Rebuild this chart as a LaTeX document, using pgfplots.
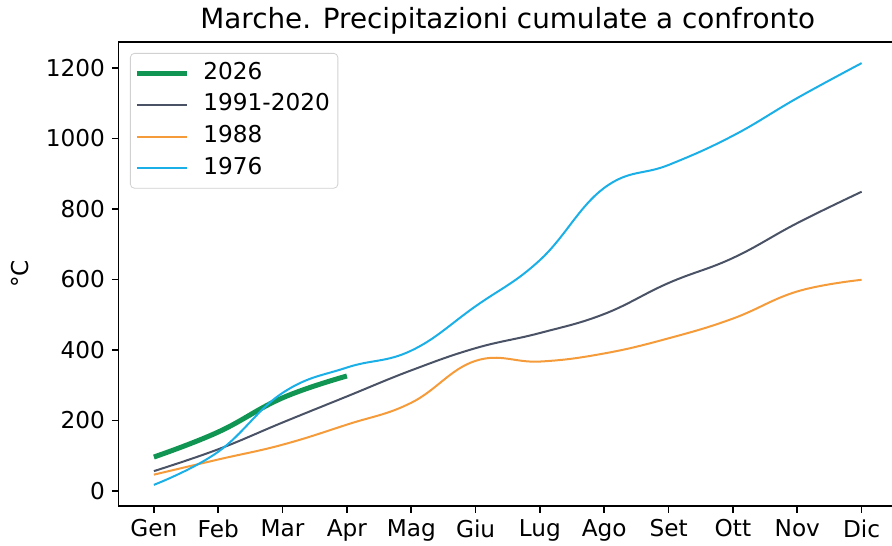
\documentclass[border=0pt]{standalone}
\usepackage{fontspec}
\setmainfont{DejaVu Sans}
\usepackage{pgfplots}
\pgfplotsset{compat=1.18}
\definecolor{cGreen}{RGB}{16,150,82}
\definecolor{cDark}{RGB}{74,82,102}
\definecolor{cOrange}{RGB}{245,155,58}
\definecolor{cBlue}{RGB}{26,175,230}
\begin{document}
\begin{tikzpicture}
\begin{axis}[
  at={(0,0)}, anchor=south west,
  scale only axis,
  width=389.25pt, height=232pt,
  xmin=-0.55, xmax=11.55,
  ymin=-43, ymax=1274,
  xtick={0,1,2,3,4,5,6,7,8,9,10,11},
  xticklabels={Gen,Feb,Mar,Apr,Mag,Giu,Lug,Ago,Set,Ott,Nov,Dic},
  ytick={0,200,400,600,800,1000,1200},
  tick align=outside, tick pos=left,
  major tick length=3.3pt,
  every tick/.style={black, line width=0.8pt},
  axis line style={line width=0.8pt},
  /pgf/number format/assume math mode=true,
  /pgf/number format/1000 sep={},
  tick label style={font=\fontsize{11.6}{13}\selectfont},
  every axis title shift=0pt,
  title={Marche. Precipitazioni cumulate a confronto},
  title style={font=\fontsize{13.9}{16}\selectfont, at={(0.5,1)}, anchor=base, yshift=6.5pt},
  ylabel={°C},
  ylabel style={font=\fontsize{11.6}{13}\selectfont, at={(axis description cs:0,0.5)}, anchor=center, yshift=49pt},
  legend cell align=left,
  legend style={at={(0,1)}, anchor=north west, xshift=5.75pt, yshift=-5.5pt,
    draw=black!18, rounded corners=2pt, font=\fontsize{11.6}{13}\selectfont,
    inner xsep=2pt, inner ysep=4.5pt,
    nodes={text height=8.5pt, text depth=2.5pt, inner ysep=0pt, inner xsep=2pt},
    row sep=4.8pt, column sep=5pt},
  legend image code/.code={\draw[#1] (0pt,0pt) -- (25pt,0pt);},
  every axis plot/.append style={tension=0.7},
]
\addplot[cGreen, line width=2.5pt, smooth] coordinates {
(0,96) (1,167) (2,264) (3,326)};
\addlegendentry{2026}
\addplot[cDark, line width=1pt, smooth] coordinates {
(0,56) (1,118) (2,194) (3,268) (4,342) (5,405) (6,448) (7,502) (8,590) (9,661) (10,760) (11,849)};
\addlegendentry{1991-2020}
\addplot[cOrange, line width=1pt, smooth] coordinates {
(0,46) (1,89) (2,131) (3,188) (4,250) (5,369) (6,367) (7,390) (8,433) (9,489) (10,566) (11,599)};
\addlegendentry{1988}
\addplot[cBlue, line width=1pt, smooth] coordinates {
(0,17) (1,111) (2,278) (3,350) (4,398) (5,524) (6,655) (7,860) (8,925) (9,1008) (10,1115) (11,1214)};
\addlegendentry{1976}
\end{axis}
\pgfresetboundingbox
\path[use as bounding box] (-59.25pt,-19.5pt) rectangle (386.75pt,253pt);
\end{tikzpicture}
\end{document}
